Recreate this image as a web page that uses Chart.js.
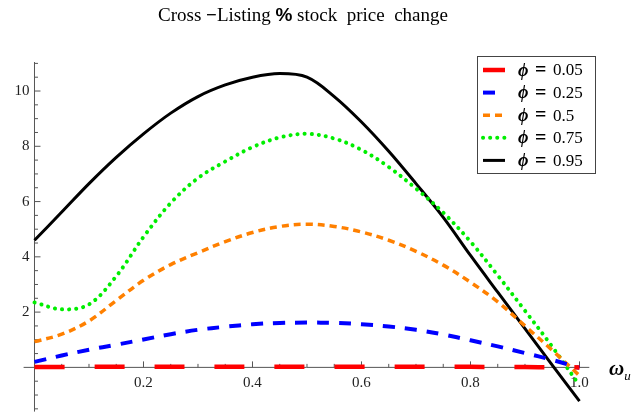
<!DOCTYPE html>
<html>
<head>
<meta charset="utf-8">
<script src="https://cdn.jsdelivr.net/npm/chart.js@4.4.0/dist/chart.umd.min.js"></script>
<style>
  html, body { margin: 0; padding: 0; background: #fff; }
  #wrap { width: 631px; height: 412px; position: relative; }
</style>
</head>
<body>
<div id="wrap"><canvas id="chart"></canvas></div>
<script>
// omega_u grid and the five curves
const omega = [0, 0.05, 0.1, 0.15, 0.2, 0.25, 0.3, 0.35, 0.4, 0.45, 0.5,
               0.55, 0.6, 0.65, 0.7, 0.75, 0.8, 0.85, 0.9, 0.95, 1.0];
const phi005 = [0.01, 0.015, 0.02, 0.02, 0.02, 0.02, 0.02, 0.02, 0.02, 0.02, 0.02,
                0.02, 0.02, 0.02, 0.02, 0.02, 0.02, 0.015, 0.01, 0.005, 0];
const phi025 = [0.2, 0.43, 0.64, 0.82, 1.01, 1.2, 1.36, 1.47, 1.56, 1.61, 1.62,
                1.61, 1.56, 1.48, 1.36, 1.19, 0.98, 0.76, 0.52, 0.27, -0.02];
const phi05 = [0.93, 1.2, 1.68, 2.42, 3.15, 3.72, 4.15, 4.55, 4.88, 5.1, 5.18,
               5.1, 4.9, 4.6, 4.2, 3.7, 3.08, 2.37, 1.5, 0.62, -0.3];
const phi075 = [2.35, 2.1, 2.28, 3.3, 4.72, 5.95, 6.85, 7.45, 7.97, 8.32, 8.45,
                8.28, 7.87, 7.25, 6.47, 5.6, 4.55, 3.33, 2.05, 0.75, -0.65];
const phi095 = [4.6, 5.62, 6.65, 7.6, 8.45, 9.2, 9.8, 10.22, 10.5, 10.63, 10.5,
                9.8, 8.88, 7.82, 6.65, 5.43, 4.05, 2.72, 1.4, 0.08, -1.22];
const phiLabels = ['0.05', '0.25', '0.5', '0.75', '0.95'];
const xTickLabels = ['0.2', '0.4', '0.6', '0.8', '1.0'];
const yTickLabels = ['2', '4', '6', '8', '10'];

const serif = 'Liberation Serif';
Chart.defaults.font.family = serif;

function pts(ys) {
  return omega.map((w, i) => ({ x: w, y: ys[i] }));
}

// Mathematica-like axes crossing at the origin, ticks pointing inward
const axesPlugin = {
  id: 'axesPlugin',
  beforeDatasetsDraw(chart) {
    const { ctx, chartArea: a, scales: { x, y } } = chart;
    const x0 = x.getPixelForValue(0);
    const y0 = y.getPixelForValue(0);
    ctx.save();
    ctx.strokeStyle = '#555';
    ctx.lineWidth = 1;
    ctx.beginPath();
    ctx.moveTo(a.left, y0); ctx.lineTo(a.right, y0);
    ctx.moveTo(x0, a.top); ctx.lineTo(x0, a.bottom);
    for (let i = 1; i <= 20; i++) {
      const px = x.getPixelForValue(i * 0.05);
      ctx.moveTo(px, y0);
      ctx.lineTo(px, y0 - (i % 4 === 0 ? 6 : 3.5));
    }
    for (let i = -3; i <= 22; i++) {
      if (i === 0) continue;
      const py = y.getPixelForValue(i * 0.5);
      ctx.moveTo(x0, py);
      ctx.lineTo(x0 + (i % 4 === 0 ? 6 : 3.5), py);
    }
    ctx.stroke();

    ctx.fillStyle = '#222';
    ctx.font = '15px ' + serif;
    ctx.textBaseline = 'middle';
    ctx.textAlign = 'center';
    xTickLabels.forEach(t => ctx.fillText(t, x.getPixelForValue(parseFloat(t)), y0 + 16));
    ctx.textAlign = 'right';
    yTickLabels.forEach(t => ctx.fillText(t, x0 - 5, y.getPixelForValue(parseFloat(t))));

    // axis label omega_u
    ctx.textAlign = 'left';
    ctx.textBaseline = 'alphabetic';
    ctx.fillStyle = '#000';
    ctx.font = 'bold italic 21px ' + serif;
    ctx.fillText('ω', 609, 375);
    const wW = ctx.measureText('ω').width;
    ctx.font = 'italic 13px ' + serif;
    ctx.fillText('u', 609 + wW, 380);
    ctx.restore();
  },
  afterDraw(chart) {
    const { ctx } = chart;
    ctx.save();
    // title with mixed fonts
    const parts = [
      ['Cross ', '19px ' + serif],
      ['\u2212', 'bold 19px ' + serif],
      ['Listing ', '19px ' + serif],
      ['%', 'bold 19px Liberation Sans'],
      [' stock  price  change', '19px ' + serif]
    ];
    let total = 0;
    parts.forEach(p => { ctx.font = p[1]; total += ctx.measureText(p[0]).width; });
    let cx = 303 - total / 2;
    ctx.fillStyle = '#000';
    ctx.textBaseline = 'alphabetic';
    parts.forEach(p => { ctx.font = p[1]; ctx.fillText(p[0], cx, 21); cx += ctx.measureText(p[0]).width; });

    // legend box
    ctx.fillStyle = '#fff';
    ctx.fillRect(477, 56, 118, 117);
    ctx.strokeStyle = '#444';
    ctx.lineWidth = 1;
    ctx.strokeRect(477.5, 56.5, 118, 117);
    chart.data.datasets.forEach((ds, i) => {
      const ly = 70 + i * 22.6;
      ctx.save();
      ctx.strokeStyle = ds.borderColor;
      ctx.lineWidth = ds.borderWidth;
      ctx.lineCap = ds.borderCapStyle || 'butt';
      ctx.setLineDash(ds.borderDash || []);
      ctx.beginPath();
      ctx.moveTo(483, ly); ctx.lineTo(505, ly);
      ctx.stroke();
      ctx.restore();
      ctx.fillStyle = '#000';
      ctx.textBaseline = 'middle';
      ctx.font = 'bold italic 18px ' + serif;
      ctx.fillText('\u03D5', 518, ly + 1);
      ctx.font = 'bold 20px ' + serif;
      ctx.fillText('=', 535, ly + 1);
      ctx.font = '17px ' + serif;
      ctx.fillText(phiLabels[i], 553, ly + 1);
    });
    ctx.restore();
  }
};

new Chart(document.getElementById('chart'), {
  type: 'line',
  data: {
    datasets: [
      { label: 'ϕ = ' + phiLabels[0], data: pts(phi005), borderColor: '#ff0000', borderWidth: 4.5, borderDash: [30, 30] },
      { label: 'ϕ = ' + phiLabels[1], data: pts(phi025), borderColor: '#0000ff', borderWidth: 4, borderDash: [12, 10] },
      { label: 'ϕ = ' + phiLabels[2], data: pts(phi05), borderColor: '#ff8000', borderWidth: 3.5, borderDash: [7, 5] },
      { label: 'ϕ = ' + phiLabels[3], data: pts(phi075), borderColor: '#00ee00', borderWidth: 4, borderDash: [0.1, 7], borderCapStyle: 'round' },
      { label: 'ϕ = ' + phiLabels[4], data: pts(phi095), borderColor: '#000000', borderWidth: 3 }
    ]
  },
  options: {
    responsive: true,
    maintainAspectRatio: false,
    animation: false,
    layout: { padding: { left: 23.6, right: 41.7, top: 62, bottom: 0.4 } },
    elements: { point: { radius: 0 }, line: { tension: 0.35, fill: false } },
    plugins: { legend: { display: false }, title: { display: false }, tooltip: { enabled: false } },
    scales: {
      x: { type: 'linear', min: -0.02, max: 1.018, display: false },
      y: { type: 'linear', min: -1.6, max: 11.05, display: false }
    }
  },
  plugins: [axesPlugin]
});
</script>
</body>
</html>
